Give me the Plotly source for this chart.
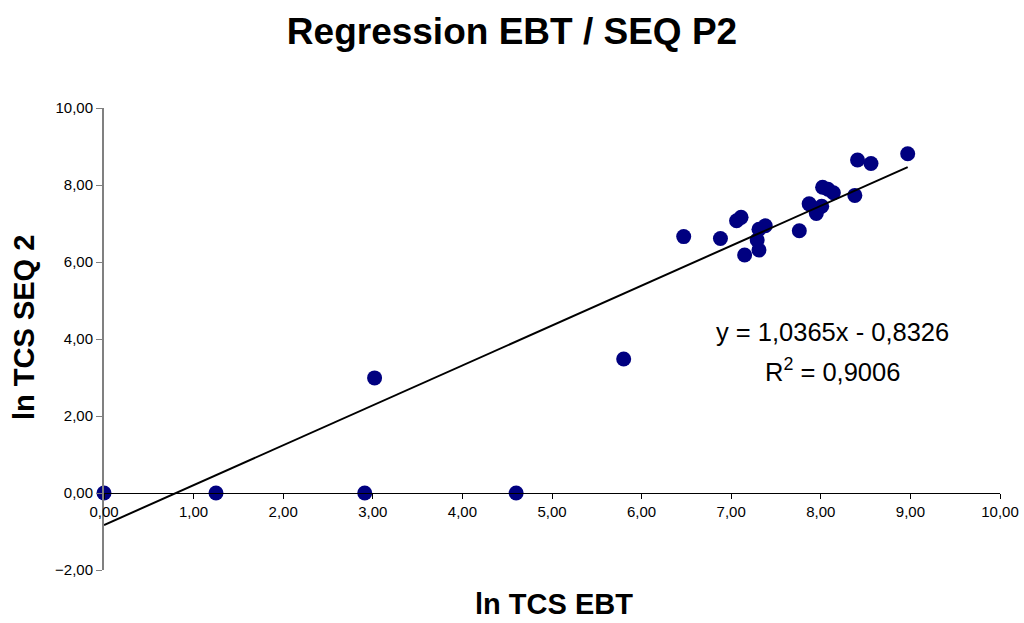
import numpy as np
import plotly.graph_objects as go

# Data
ln_tcs_ebt = [0.00, 1.25, 2.91, 4.60, 3.02, 5.80,
              6.47, 6.88, 7.06, 7.11, 7.15, 7.31, 7.38, 7.29, 7.31,
              7.76, 7.87, 7.95, 8.01, 8.02, 8.08, 8.14, 8.38, 8.41, 8.56, 8.97]
ln_tcs_seq2 = [0.00, 0.00, 0.00, 0.00, 2.99, 3.48,
               6.66, 6.61, 7.07, 7.16, 6.18, 6.85, 6.94, 6.57, 6.31,
               6.81, 7.51, 7.26, 7.45, 7.94, 7.89, 7.80, 7.73, 8.65, 8.56, 8.81]
slope = 1.0365
intercept = -0.8326
r_squared = 0.9006

x_ticks = [0, 1, 2, 3, 4, 5, 6, 7, 8, 9, 10]
y_ticks = [-2, 0, 2, 4, 6, 8, 10]

FONT = "Arial, Liberation Sans, sans-serif"

line_x = np.array([min(ln_tcs_ebt), max(ln_tcs_ebt)])
line_y = slope * line_x + intercept

fig = go.Figure()
fig.add_trace(go.Scatter(x=ln_tcs_ebt, y=ln_tcs_seq2, mode="markers",
                         marker=dict(color="#000080", size=15),
                         showlegend=False, cliponaxis=False))
fig.add_trace(go.Scatter(x=line_x, y=line_y, mode="lines",
                         line=dict(color="black", width=2),
                         showlegend=False))


def fmt(v, d):
    return f"{v:.{d}f}".replace(".", ",")


eq_text = f"y = {fmt(slope, 4)}x - {fmt(-intercept, 4)}"
r2_text = f"R<sup>2</sup> = {fmt(r_squared, 4)}"

pw, ph = 1024 - 104 - 24, 623 - 108 - 53

fig.update_layout(
    width=1024, height=623,
    margin=dict(l=104, r=24, t=108, b=53),
    paper_bgcolor="white", plot_bgcolor="white",
    separators=",.",
    font=dict(family=FONT, color="black"),
    title=dict(text="<b>Regression EBT / SEQ P2</b>", x=0.5, xanchor="center",
               y=1 - 31 / 623, yref="container", yanchor="middle",
               font=dict(size=37, family=FONT, color="black")),
    xaxis=dict(range=[0, 10], tickvals=x_ticks, tickformat=".2f",
               showgrid=False, zeroline=False, automargin=False,
               showline=True, linecolor="black", linewidth=1,
               ticks="outside", ticklen=5, tickcolor="black",
               anchor="free", position=2 / 12,
               tickfont=dict(size=15, family=FONT, color="black")),
    yaxis=dict(range=[-2, 10], tickvals=y_ticks, tickformat=".2f",
               showgrid=False, zeroline=False, automargin=False,
               showline=True, linecolor="#808080", linewidth=2,
               ticks="outside", ticklen=6, tickcolor="#808080",
               tickfont=dict(size=15, family=FONT, color="black")),
    annotations=[
        dict(text="<b>ln TCS EBT</b>", x=(554 - 104) / pw, y=(623 - 53 - 604) / ph,
             xref="paper", yref="paper", xanchor="center", yanchor="middle",
             showarrow=False, font=dict(size=29, family=FONT)),
        dict(text="<b>ln TCS SEQ 2</b>", textangle=-90,
             x=(24 - 104) / pw, y=(623 - 53 - 328) / ph,
             xref="paper", yref="paper", xanchor="center", yanchor="middle",
             showarrow=False, font=dict(size=29, family=FONT)),
        dict(text=eq_text, x=8.13, y=4.18, xref="x", yref="y", showarrow=False,
             xanchor="center", yanchor="middle",
             font=dict(size=25.5, family=FONT)),
        dict(text=r2_text, x=8.13, y=3.2, xref="x", yref="y", showarrow=False,
             xanchor="center", yanchor="middle",
             font=dict(size=25.5, family=FONT)),
    ],
)

fig.write_html("out.html")
